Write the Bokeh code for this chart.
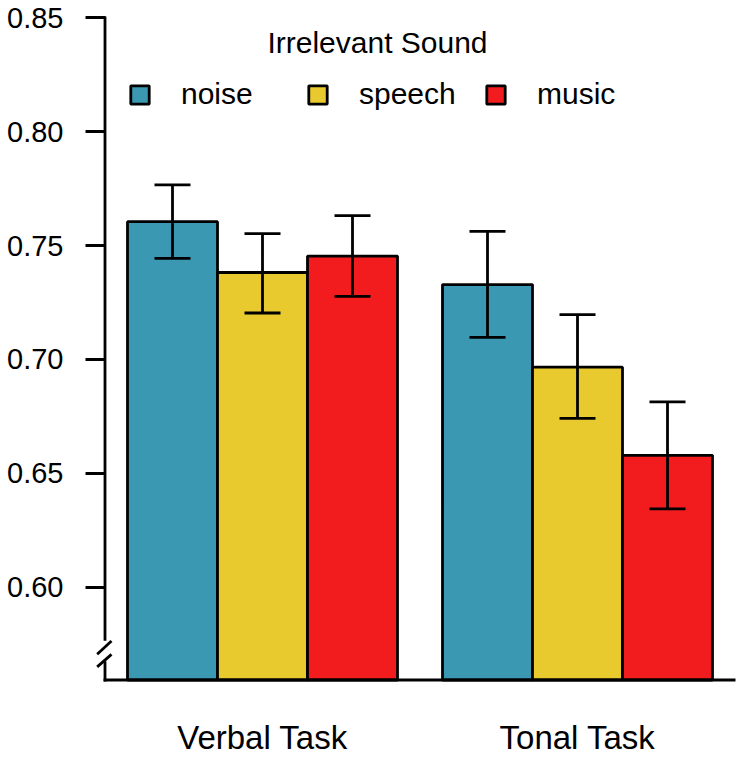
from bokeh.plotting import figure
from bokeh.models import (ColumnDataSource, Range1d, LinearAxis, FixedTicker, Whisker,
                          TeeHead, Legend, LegendItem, Label, PrintfTickFormatter)
from bokeh.embed import file_html
from bokeh.resources import INLINE

# ---------------- data ----------------
tasks = ["Verbal Task", "Tonal Task"]
sounds = ["noise", "speech", "music"]
colors = ["#3B98B2", "#E9CA2E", "#F21C1E"]

noise_mean = [0.7605, 0.7329]
speech_mean = [0.7382, 0.6966]
music_mean = [0.7454, 0.6579]

noise_lower = [0.7444, 0.7097]
noise_upper = [0.7767, 0.7563]
speech_lower = [0.7204, 0.6741]
speech_upper = [0.7553, 0.7197]
music_lower = [0.7277, 0.6344]
music_upper = [0.7632, 0.6814]

y_ticks = [0.60, 0.65, 0.70, 0.75, 0.80, 0.85]
legend_title = "Irrelevant Sound"

means = [noise_mean, speech_mean, music_mean]
lowers = [noise_lower, speech_lower, music_lower]
uppers = [noise_upper, speech_upper, music_upper]

# ---------------- axis styling constants ----------------
BASE = 0.5592           # where the (broken) y axis meets the x axis
BREAK_HI = 0.57704      # axis break (top end)
BREAK_LO = 0.56685      # axis break (bottom end)
FONT = "Liberation Sans"
LW = 2.8

n_groups = len(tasks)
n_series = len(sounds)
bar_w = 1.0 / (n_series + 0.5)

p = figure(width=739, height=758,
           x_range=Range1d(-0.03016, n_groups + 0.00159),
           y_range=Range1d(0.55723, 0.85503),
           x_axis_type=None, y_axis_type=None,
           output_backend="svg", toolbar_location=None,
           min_border_left=95, min_border_right=4,
           min_border_top=6, min_border_bottom=71)
p.outline_line_color = None
p.xgrid.visible = False
p.ygrid.visible = False
p.background_fill_color = "white"
p.border_fill_color = "white"

# ---------------- bars ----------------
renderers = []
wx, wlo, whi = [], [], []
for j, s in enumerate(sounds):
    xs = [i + 0.5 + (j - (n_series - 1) / 2) * bar_w for i in range(n_groups)]
    src = ColumnDataSource(dict(x=xs, top=means[j]))
    r = p.vbar(x="x", top="top", bottom=BASE, width=bar_w, source=src,
               fill_color=colors[j], line_color="black", line_width=LW)
    renderers.append(r)
    wx += xs
    wlo += lowers[j]
    whi += uppers[j]

wsrc = ColumnDataSource(dict(x=wx, lower=wlo, upper=whi))
whisk = Whisker(source=wsrc, base="x", lower="lower", upper="upper",
                line_width=LW, line_color="black", level="overlay",
                upper_head=TeeHead(size=36, line_width=LW, line_color="black"),
                lower_head=TeeHead(size=36, line_width=LW, line_color="black"))
p.add_layout(whisk)

# ---------------- axes lines (with break) ----------------
p.segment(x0=[0, 0], y0=[y_ticks[-1], BREAK_LO], x1=[0, 0], y1=[BREAK_HI, BASE],
          line_color="black", line_width=LW, line_cap="square")
p.segment(x0=[0], y0=[BASE], x1=[n_groups], y1=[BASE],
          line_color="black", line_width=LW, line_cap="square")
# break marks
p.segment(x0=[-0.0248, -0.0248], y0=[0.57048, 0.56497],
          x1=[0.0206, 0.0206], y1=[0.57634, 0.57048],
          line_color="black", line_width=LW)

# ---------------- y axis ----------------
yaxis = LinearAxis(ticker=FixedTicker(ticks=y_ticks),
                   formatter=PrintfTickFormatter(format="%.2f"))
yaxis.axis_line_color = None
yaxis.major_tick_in = 10
yaxis.major_tick_out = 10
yaxis.major_tick_line_width = LW
yaxis.major_tick_line_color = "black"
yaxis.minor_tick_line_color = None
yaxis.major_label_standoff = 22
yaxis.major_label_text_font = FONT
yaxis.major_label_text_font_size = "29px"
yaxis.major_label_text_color = "black"
p.add_layout(yaxis, "left")

# ---------------- x axis (group labels) ----------------
centers = [i + 0.5 for i in range(n_groups)]
xaxis = LinearAxis(ticker=FixedTicker(ticks=centers),
                   major_label_overrides={c: t for c, t in zip(centers, tasks)})
xaxis.axis_line_color = None
xaxis.major_tick_line_color = None
xaxis.major_tick_in = 0
xaxis.major_tick_out = 0
xaxis.minor_tick_line_color = None
xaxis.major_label_standoff = 34
xaxis.major_label_text_font = FONT
xaxis.major_label_text_font_size = "33px"
xaxis.major_label_text_color = "black"
p.add_layout(xaxis, "below")

# ---------------- legend ----------------
legend = Legend(items=[LegendItem(label=s, renderers=[r]) for s, r in zip(sounds, renderers)],
                orientation="horizontal", location=(33, 573),
                glyph_width=23, glyph_height=23, label_standoff=30, label_width=125,
                spacing=0, padding=0, margin=0,
                border_line_color=None, background_fill_alpha=0,
                label_text_font=FONT, label_text_font_size="30px",
                label_text_color="black")
p.add_layout(legend)

title = Label(x=0.865, y=0.83916, text=legend_title, text_align="center",
              text_baseline="alphabetic", text_font=FONT, text_font_size="30px",
              text_color="black")
p.add_layout(title)

open("out.html", "w").write(file_html(p, INLINE))
